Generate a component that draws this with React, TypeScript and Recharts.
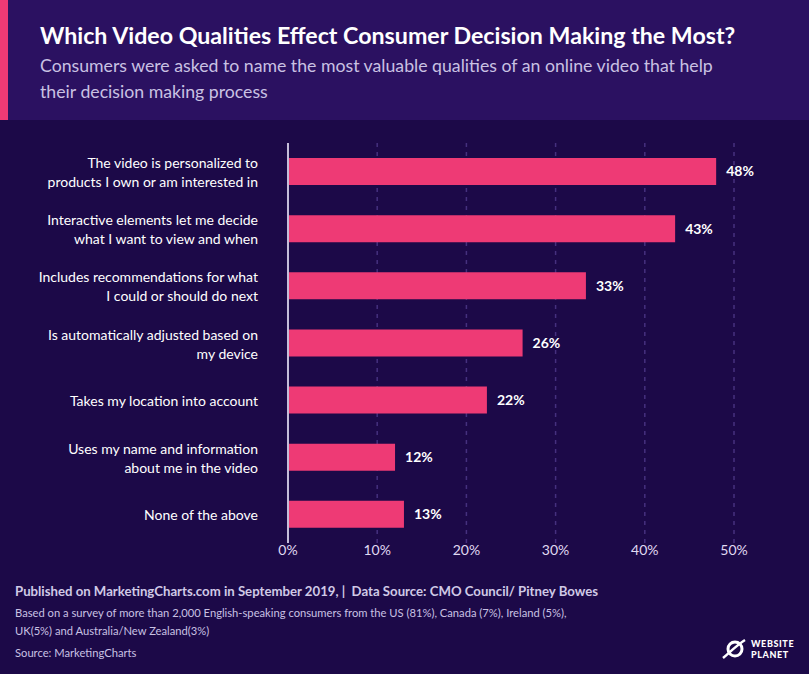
import { BarChart, Bar, XAxis, YAxis, CartesianGrid, LabelList } from 'recharts';

const categories = [
  'The video is personalized to\nproducts I own or am interested in',
  'Interactive elements let me decide\nwhat I want to view and when',
  'Includes recommendations for what\nI could or should do next',
  'Is automatically adjusted based on\nmy device',
  'Takes my location into account',
  'Uses my name and information\nabout me in the video',
  'None of the above',
];
// shares; labels show them rounded
const shares = [48, 43.4, 33.4, 26.3, 22.3, 12, 13];
const xTicks = [0, 10, 20, 30, 40, 50];

const data = categories.map((name, i) => ({ name, value: shares[i] }));

const FONT = 'Lato, "Open Sans", sans-serif';

function CategoryTick({ y, payload }: any) {
  const lines: string[] = String(payload.value).split('\n');
  const lh = 19;
  const start = y - ((lines.length - 1) * lh) / 2;
  return (
    <text x={258} y={start} textAnchor="end" fill="#ffffff" fontSize={14} fontFamily={FONT} dominantBaseline="central">
      {lines.map((l, i) => (
        <tspan key={i} x={258} y={start + i * lh}>
          {l}
        </tspan>
      ))}
    </text>
  );
}

function Logo() {
  return (
    <div style={{ position: 'absolute', left: 722, top: 638, display: 'flex', alignItems: 'center', gap: 5 }}>
      <svg width="24" height="22" viewBox="0 0 24 22">
        <circle cx="13" cy="11" r="7" fill="none" stroke="#fff" strokeWidth="3" />
        <path d="M1 20 C7 15 15 7 23 2" stroke="#fff" strokeWidth="2.5" fill="none" />
      </svg>
      <div style={{ color: '#fff', fontFamily: FONT, fontWeight: 900, fontSize: 9, lineHeight: '11px', letterSpacing: 0.6 }}>
        WEBSITE
        <br />
        PLANET
      </div>
    </div>
  );
}

export default function App() {
  return (
    <div style={{ position: 'relative', width: 809, height: 674, background: '#1c0948', fontFamily: FONT, overflow: 'hidden' }}>
      <style>{'body{margin:0}'}</style>
      <div style={{ position: 'absolute', left: 0, top: 0, width: 809, height: 120, background: '#2b1161' }} />
      <div style={{ position: 'absolute', left: 0, top: 0, width: 8, height: 120, background: '#ee3a75' }} />
      <div style={{ position: 'absolute', left: 40, top: 19, color: '#ffffff', fontWeight: 700, fontSize: 23.2, lineHeight: '32px', whiteSpace: 'nowrap' }}>
        Which Video Qualities Effect Consumer Decision Making the Most?
      </div>
      <div style={{ position: 'absolute', left: 40, top: 53, width: 700, color: '#c9c1e3', fontSize: 17.7, lineHeight: '26px' }}>
        Consumers were asked to name the most valuable qualities of an online video that help their decision making process
      </div>

      <div style={{ position: 'absolute', left: 0, top: 0 }}>
        <BarChart
          width={809}
          height={600}
          data={data}
          layout="vertical"
          margin={{ top: 143, right: 75, bottom: 27, left: 0 }}
          barSize={27}
        >
          <CartesianGrid horizontal={false} stroke="#45307e" strokeDasharray="4 5" strokeWidth={1.5} />
          <XAxis
            type="number"
            domain={[0, 50]}
            ticks={xTicks}
            tickFormatter={(v: number) => `${v}%`}
            axisLine={false}
            tickLine={false}
            tickSize={0}
            tickMargin={2}
            height={30}
            tick={{ fill: '#e0daf2', fontSize: 14, fontFamily: FONT }}
          />
          <YAxis
            type="category"
            dataKey="name"
            width={288}
            axisLine={{ stroke: '#c4bdd9', strokeWidth: 2 }}
            tickLine={false}
            tick={<CategoryTick />}
            interval={0}
          />
          <Bar dataKey="value" fill="#ee3a75" isAnimationActive={false}>
            <LabelList
              dataKey="value"
              position="right"
              offset={10}
              formatter={(v: number) => `${Math.round(v)}%`}
              style={{ fill: '#ffffff', fontWeight: 700, fontSize: 14, fontFamily: FONT }}
            />
          </Bar>
        </BarChart>
      </div>

      <div style={{ position: 'absolute', left: 15, top: 582, color: '#d0c9e6', fontWeight: 700, fontSize: 13.2, lineHeight: '18px', whiteSpace: 'nowrap' }}>
        Published on MarketingCharts.com in September 2019, |&nbsp; Data Source: CMO Council/ Pitney Bowes
      </div>
      <div style={{ position: 'absolute', left: 15, top: 604, width: 620, color: '#c9c1e3', fontSize: 11.2, lineHeight: '18px' }}>
        Based on a survey of more than 2,000 English-speaking consumers from the US (81%), Canada (7%), Ireland (5%),
        <br />
        UK(5%) and Australia/New Zealand(3%)
      </div>
      <div style={{ position: 'absolute', left: 15, top: 645, color: '#c9c1e3', fontSize: 11.2, lineHeight: '16px' }}>
        Source: MarketingCharts
      </div>
      <Logo />
    </div>
  );
}
